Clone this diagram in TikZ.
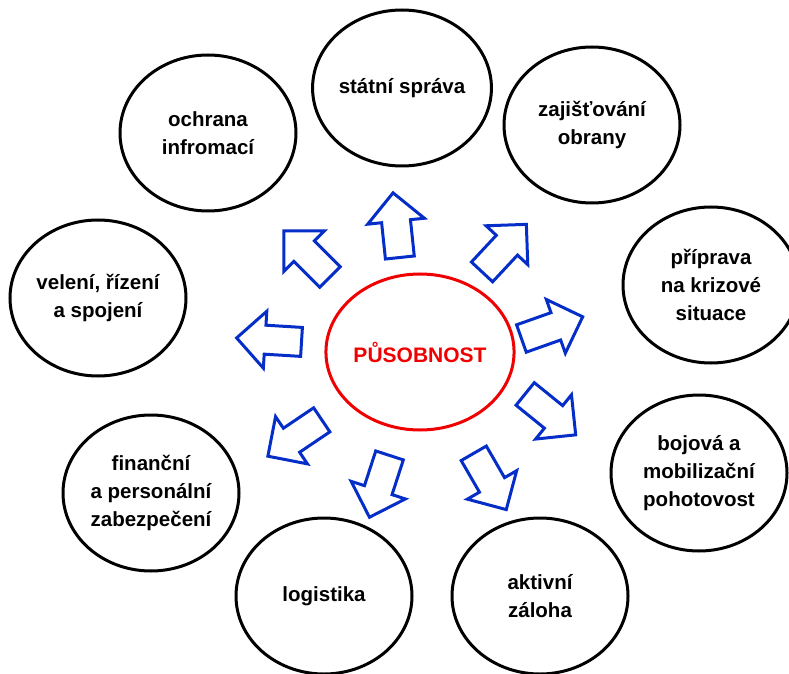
\documentclass[tikz,border=0pt]{standalone}
\usepackage{fontspec}
\setmainfont{Liberation Sans}
\usetikzlibrary{shapes.geometric,shapes.arrows}
\definecolor{arrowblue}{RGB}{5,45,200}
\definecolor{centrered}{RGB}{240,0,0}
\begin{document}
\begin{tikzpicture}[x=1pt,y=1pt,
  area/.style={draw=black,line width=3pt,ellipse,minimum width=176pt,minimum height=156pt,
    inner sep=0pt,align=center,font=\fontsize{20.5}{28}\selectfont\bfseries},
  core/.style={draw=centrered,line width=3pt,ellipse,minimum width=176pt,minimum height=156pt,
    inner sep=0pt,text=centrered,font=\fontsize{21}{26}\selectfont\bfseries},
  blk/.style={draw=arrowblue,line width=3pt,single arrow,single arrow tip angle=90,
    single arrow head extend=14pt,inner xsep=0pt,inner ysep=13pt,minimum width=0pt,
    minimum height=65pt,anchor=tail}]
\useasboundingbox (0,0) rectangle (789,673);

\node[core] (pusobnost) at (420,321) {PŮSOBNOST};

\node[area] (statni) at (402,585) {státní správa};
\node[area] (obrana) at (592,548) {zajišťování\\obrany};
\node[area] (krize) at (711,388) {příprava\\na krizové\\situace};
\node[area] (pohotovost) at (699,200) {bojová a\\mobilizační\\pohotovost};
\node[area] (zaloha) at (540,77) {aktivní\\záloha};
\node[area] (logistika) at (324,77) {logistika};
\node[area] (financni) at (151,180) {finanční\\a personální\\zabezpečení};
\node[area] (veleni) at (98,375) {velení, řízení\\a spojení};
\node[area] (ochrana) at (208,540) {ochrana\\infromací};

\node[blk,rotate=96] (toStatni) at (400,414) {};
\node[blk,rotate=135] (toOchrana) at (331,395) {};
\node[blk,rotate=47] (toObrana) at (481,400) {};
\node[blk,rotate=19.5] (toKrize) at (520,334) {};
\node[blk,rotate=-39] (toPohotovost) at (524,280) {};
\node[blk,rotate=-60] (toZaloha) at (473,221) {};
\node[blk,rotate=-108] (toLogistika) at (390,219) {};
\node[blk,rotate=-146] (toFinancni) at (323,254) {};
\node[blk,rotate=176.5] (toVeleni) at (303,331) {};

\end{tikzpicture}
\end{document}
